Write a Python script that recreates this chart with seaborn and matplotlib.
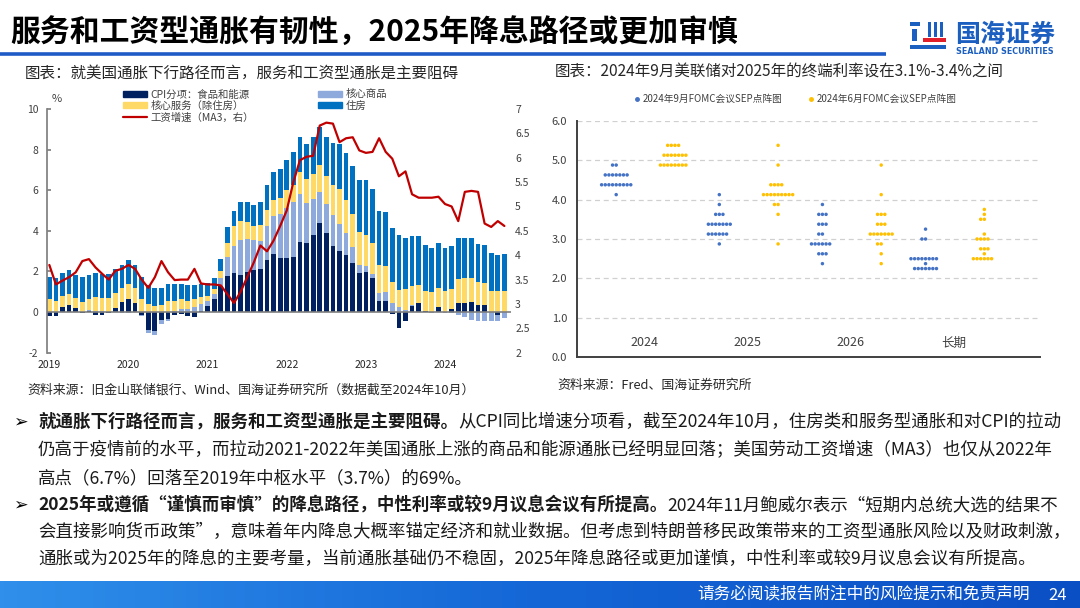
import numpy as np
import pandas as pd
import matplotlib
matplotlib.use("Agg")
import matplotlib.pyplot as plt
import seaborn as sns
from matplotlib.patches import Patch, Rectangle
from matplotlib.lines import Line2D
from matplotlib.colors import LinearSegmentedColormap

# ---------------- left chart: contributions to US CPI YoY (pp), Jan 2019 - Oct 2024
food_energy = [-0.2, -0.2, 0.25, 0.35, 0.2, -0.05, 0.05, -0.15, -0.15, -0.05, 0.2, 0.5,
               0.65, 0.45, -0.15, -0.9, -0.95, -0.38, -0.35, -0.15, -0.08, -0.2, -0.25, 0.03,
               0.28, 0.64, 1.28, 1.77, 1.93, 1.85, 1.95, 2.05, 2.12, 2.55, 2.85, 2.64,
               2.64, 2.7, 3.43, 3.38, 3.82, 4.41, 3.87, 3.26, 3.0, 2.8, 2.43, 1.9,
               1.95, 1.66, 0.57, 0.57, -0.11, -0.78, -0.44, 0.3, 0.46, 0.05, -0.02, 0.23,
               0.02, 0.13, 0.43, 0.46, 0.51, 0.34, 0.34, 0.0, -0.12, 0.0]
core_goods = [0.0, 0.0, 0.02, 0.02, 0.02, 0.0, 0.05, 0.03, 0.05, 0.0, 0.0, -0.03,
              -0.03, 0.0, -0.05, -0.15, -0.2, -0.2, -0.1, 0.05, 0.15, 0.15, 0.25, 0.35,
              0.27, 0.24, 0.42, 0.95, 1.32, 1.7, 1.65, 1.5, 1.38, 1.7, 1.9, 2.21,
              2.5, 2.7, 2.36, 2.0, 1.74, 1.48, 1.44, 1.51, 1.33, 1.07, 0.78, 0.44,
              0.33, 0.21, 0.35, 0.43, 0.43, 0.26, 0.1, 0.05, 0.0, -0.02, -0.03, 0.0,
              -0.05, -0.05, -0.12, -0.25, -0.38, -0.42, -0.42, -0.42, -0.3, -0.28]
core_services = [0.65, 0.55, 0.5, 0.5, 0.48, 0.5, 0.55, 0.72, 0.65, 0.7, 0.72, 0.7,
                 0.75, 0.75, 0.65, 0.4, 0.3, 0.35, 0.57, 0.52, 0.5, 0.42, 0.4, 0.35,
                 0.25, 0.27, 0.3, 0.7, 1.0, 0.95, 0.85, 0.7, 0.8, 0.8, 0.75, 0.79,
                 0.86, 0.85, 1.11, 1.19, 1.26, 1.34, 1.38, 1.48, 1.75, 1.67, 1.64, 1.61,
                 1.51, 1.51, 1.38, 1.28, 1.06, 0.84, 1.06, 0.93, 0.87, 0.98, 1.0, 0.98,
                 1.01, 1.03, 1.18, 1.2, 1.19, 1.15, 1.1, 1.03, 1.03, 1.05]
shelter = [1.08, 1.13, 1.15, 1.21, 1.15, 1.22, 1.18, 1.17, 1.18, 1.18, 1.18, 1.13,
           1.15, 1.13, 1.08, 0.93, 0.9, 0.85, 0.81, 0.83, 0.73, 0.75, 0.7, 0.65,
           0.65, 0.55, 0.62, 0.78, 0.75, 0.9, 0.95, 1.03, 1.12, 1.2, 1.38, 1.43,
           1.5, 1.65, 1.7, 1.73, 1.8, 1.87, 1.91, 2.08, 2.22, 2.3, 2.35, 2.54,
           2.7, 2.7, 2.7, 2.67, 2.67, 2.69, 2.51, 2.46, 2.41, 2.27, 2.18, 2.17,
           2.15, 2.09, 2.05, 2.0, 1.96, 1.85, 1.86, 1.89, 1.77, 1.8]
wage_ma3 = [3.80, 3.40, 3.48, 3.55, 3.65, 3.88, 3.92, 3.75, 3.62, 3.50, 3.68, 3.72,
            3.80, 3.72, 3.50, 3.33, 3.55, 3.88, 3.65, 3.49, 3.50, 3.50, 3.72, 3.42,
            3.40, 3.40, 3.38, 3.20, 3.02, 3.25, 3.55, 3.85, 4.20, 4.08, 4.30, 4.60,
            4.92, 5.50, 5.95, 6.02, 6.04, 6.66, 6.72, 6.70, 6.32, 6.40, 6.42, 6.15,
            6.10, 6.12, 6.40, 6.12, 5.98, 5.62, 5.72, 5.25, 5.18, 5.18, 5.18, 5.20,
            5.05, 5.00, 4.70, 5.30, 5.32, 5.30, 4.65, 4.58, 4.70, 4.60]
year_labels = ["2019", "2020", "2021", "2022", "2023", "2024"]

# ---------------- right chart: FOMC SEP dot plots
dot_years = ["2024", "2025", "2026", "长期"]
sep_rates = [[4.875, 4.625, 4.375, 4.125],
             [4.125, 3.875, 3.625, 3.375, 3.125, 2.875],
             [3.875, 3.625, 3.375, 3.125, 2.875, 2.625, 2.375],
             [3.25, 3.0, 2.5, 2.375, 2.25]]
sep_counts = [[2, 7, 9, 1],
              [1, 1, 3, 7, 6, 1],
              [1, 3, 3, 2, 6, 3, 1],
              [1, 2, 8, 1, 7]]
jun_rates = [[5.375, 5.125, 4.875],
             [5.375, 4.875, 4.375, 4.125, 3.875, 3.625, 2.875],
             [4.875, 4.125, 3.625, 3.375, 3.125, 2.875, 2.625, 2.375],
             [3.75, 3.625, 3.5, 3.125, 3.0, 2.75, 2.625, 2.5]]
jun_counts = [[4, 7, 8],
              [1, 1, 4, 9, 2, 1, 1],
              [1, 1, 3, 3, 7, 2, 1, 1],
              [1, 1, 2, 1, 4, 3, 1, 6]]
sep_label = "2024年9月FOMC会议SEP点阵图"
jun_label = "2024年6月FOMC会议SEP点阵图"

sns.set_theme(style="white")
plt.rcParams["font.family"] = ["Noto Sans CJK SC", "DejaVu Sans"]
plt.rcParams["axes.unicode_minus"] = False

W, H = 1080, 608
fig = plt.figure(figsize=(10.8, 6.08), dpi=100)


def fbox(x0, y0, x1, y1):
    # pixel box (top-left origin) -> figure fraction rect
    return [x0 / W, 1 - y1 / H, (x1 - x0) / W, (y1 - y0) / H]


bg = fig.add_axes([0, 0, 1, 1])
bg.set_xlim(0, W)
bg.set_ylim(H, 0)
bg.axis("off")

# header
bg.text(10, 33, "服务和工资型通胀有韧性，2025年降息路径或更加审慎", fontsize=21.5,
        fontweight="bold", color="black", va="center", ha="left")
bg.plot([0, 886], [54, 54], color="#1F5BC6", lw=2.6, solid_capstyle="butt")
logo_blue = "#1B5FC1"
for r in [(910, 22, 10, 4), (912, 29, 5, 12), (928, 22, 3, 15), (934, 22, 3, 15),
          (940, 22, 3, 15), (910, 45, 36, 4)]:
    bg.add_patch(Rectangle((r[0], r[1]), r[2], r[3], color=logo_blue, lw=0))
bg.add_patch(Rectangle((923, 38), 23, 4, color="#E0202A", lw=0))
bg.text(1005, 35, "国海证券", fontsize=18, fontweight="bold", color=logo_blue,
        ha="center", va="center")
bg.text(1005, 52, "SEALAND SECURITIES", fontsize=5.8, fontweight="bold", color=logo_blue,
        ha="center", va="center", family="DejaVu Sans")

# chart captions and sources
bg.text(25, 73, "图表：就美国通胀下行路径而言，服务和工资型通胀是主要阻碍", fontsize=11.2,
        color="#262626", va="center")
bg.text(555, 72, "图表：2024年9月美联储对2025年的终端利率设在3.1%-3.4%之间", fontsize=11.2,
        color="#262626", va="center")
bg.text(27, 390, "资料来源：旧金山联储银行、Wind、国海证券研究所（数据截至2024年10月）",
        fontsize=9.3, color="#262626", va="center")
bg.text(557, 385, "资料来源：Fred、国海证券研究所", fontsize=9.3, color="#262626", va="center")

# bullet text
fs = 12.6
tc = "#1A1A1A"
lines = [
    (420, "就通胀下行路径而言，服务和工资型通胀是主要阻碍。",
     "从CPI同比增速分项看，截至2024年10月，住房类和服务型通胀和对CPI的拉动"),
    (448, None, "仍高于疫情前的水平，而拉动2021-2022年美国通胀上涨的商品和能源通胀已经明显回落；美国劳动工资增速（MA3）也仅从2022年"),
    (476, None, "高点（6.7%）回落至2019年中枢水平（3.7%）的69%。"),
    (503, "2025年或遵循“谨慎而审慎”的降息路径，中性利率或较9月议息会议有所提高。",
     "2024年11月鲍威尔表示“短期内总统大选的结果不"),
    (530, None, "会直接影响货币政策”，意味着年内降息大概率锚定经济和就业数据。但考虑到特朗普移民政策带来的工资型通胀风险以及财政刺激，"),
    (557, None, "通胀或为2025年的降息的主要考量，当前通胀基础仍不稳固，2025年降息路径或更加谨慎，中性利率或较9月议息会议有所提高。"),
]
for y, bold_part, normal_part in lines:
    if bold_part is None:
        bg.text(38, y, normal_part, fontsize=fs, color=tc, va="center_baseline")
        continue
    bg.text(13, y, "➢", fontsize=fs, color="black", va="center_baseline",
            fontweight="bold", family=["DejaVu Sans"])
    tb = bg.text(38, y, bold_part, fontsize=fs, color=tc, fontweight="bold",
                 va="center_baseline")
    bg.annotate(normal_part, xy=(1, 0), xycoords=tb, va="bottom", ha="left",
                fontsize=fs, color=tc)

# footer band
grad = np.linspace(0, 1, 256).reshape(1, -1)
cmap = LinearSegmentedColormap.from_list("band", ["#2F8FEA", "#1466D6", "#0B4FC4"])
bg.imshow(grad, extent=[0, W, H, 581], aspect="auto", cmap=cmap, zorder=0)
bg.set_xlim(0, W)
bg.set_ylim(H, 0)
bg.text(1030, 595, "请务必阅读报告附注中的风险提示和免责声明", fontsize=12, color="white",
        ha="right", va="center")
bg.text(1058, 595, "24", fontsize=12, color="white", ha="center", va="center")

# ---------------- left chart
ax = fig.add_axes(fbox(46.7, 109, 511, 352.7))
ax.patch.set_alpha(0)
months = np.arange(len(food_energy))
parts = [("CPI分项：食品和能源", food_energy, "#002060"),
         ("核心商品", core_goods, "#8EA9DB"),
         ("核心服务（除住房）", core_services, "#FFD966"),
         ("住房", shelter, "#0070C0")]
pos = np.zeros(len(months))
neg = np.zeros(len(months))
for label, vals, color in parts:
    v = np.asarray(vals, dtype=float)
    base = np.where(v >= 0, pos, neg)
    sns.barplot(x=months, y=v, bottom=base, color=color, saturation=1, width=0.72,
                native_scale=True, linewidth=0, ax=ax, errorbar=None)
    pos += np.clip(v, 0, None)
    neg += np.clip(v, None, 0)

ax.axhline(0, color="#7F7F7F", lw=1.2, zorder=3)
ax.set_xlim(-0.4, 70)
ax.set_ylim(-2, 10)
ax.set_yticks(np.arange(-2, 11, 2))
ax.set_xticks(np.arange(0, 61, 12))
ax.set_xticklabels(year_labels)
ax.tick_params(axis="x", length=0, labelsize=7.5, labelcolor="#262626", pad=5)
ax.tick_params(axis="y", length=3, direction="in", labelsize=7.5, labelcolor="#404040",
               color="#808080", pad=6)
for s in ["top", "right", "bottom"]:
    ax.spines[s].set_visible(False)
ax.spines["left"].set_color("#808080")
ax.set_xlabel("")
ax.set_ylabel("")
bg.text(52, 99, "%", fontsize=8, color="#404040", va="center")

ax2 = ax.twinx()
sns.lineplot(x=months, y=wage_ma3, color="#C00000", lw=1.6, ax=ax2)
ax2.set_ylim(2, 7)
ax2.set_yticks(np.arange(2, 7.01, 0.5))
ax2.set_yticklabels([f"{t:g}" for t in np.arange(2, 7.01, 0.5)])
ax2.tick_params(axis="y", length=0, labelsize=7.5, labelcolor="#404040", pad=3)
for s in ax2.spines.values():
    s.set_visible(False)
ax2.set_ylabel("")
ax2.grid(False)

handles = [Patch(color="#002060"), Patch(color="#FFD966"), Line2D([], [], color="#C00000", lw=1.6),
           Patch(color="#8EA9DB"), Patch(color="#0070C0")]
labels = ["CPI分项：食品和能源", "核心服务（除住房）", "工资增速（MA3，右）", "核心商品", "住房"]
fig.legend(handles, labels, ncol=2, loc="upper left", bbox_to_anchor=(118 / W, 1 - 84 / H),
           frameon=False, fontsize=7.5, handlelength=2.3, handleheight=0.55,
           labelspacing=0.12, columnspacing=6.2, handletextpad=0.3, borderpad=0,
           labelcolor="#404040")

# ---------------- right chart
rows = []
for meeting, rates_all, counts_all, shift in [(sep_label, sep_rates, sep_counts, -0.27),
                                                (jun_label, jun_rates, jun_counts, 0.30)]:
    for i, (rates, counts) in enumerate(zip(rates_all, counts_all)):
        for r, c in zip(rates, counts):
            rows += [{"meeting": meeting, "xpos": i + shift, "rate": r}] * c
dots = pd.DataFrame(rows)

axr = fig.add_axes(fbox(576.7, 120.7, 1040, 357.3))
axr.patch.set_alpha(0)
sns.swarmplot(data=dots, x="xpos", y="rate", hue="meeting", native_scale=True,
              hue_order=[sep_label, jun_label], palette=["#4472C4", "#FFC000"],
              size=2.5, linewidth=0, legend=False, ax=axr)
axr.set_xlim(-0.653, 3.84)
axr.set_ylim(0, 6)
axr.set_yticks(np.arange(0, 6.01, 1))
axr.set_yticklabels([f"{t:.1f}" for t in np.arange(0, 6.01, 1)])
axr.set_xticks(range(len(dot_years)))
axr.set_xticklabels(dot_years)
axr.tick_params(axis="x", length=0, pad=-15, labelsize=9, labelcolor="#404040")
axr.tick_params(axis="y", length=3, direction="out", labelsize=8, labelcolor="#404040",
                color="#404040", pad=4)
axr.yaxis.grid(True, color="#D0D0D0", lw=0.9, ls=(0, (4, 3)))
axr.xaxis.grid(False)
axr.set_axisbelow(True)
for s in ["top", "right"]:
    axr.spines[s].set_visible(False)
for s in ["left", "bottom"]:
    axr.spines[s].set_color("#404040")
    axr.spines[s].set_linewidth(1.4)
axr.set_xlabel("")
axr.set_ylabel("")

dot_handles = [Line2D([], [], ls="", marker="o", markersize=2.5, color="#4472C4"),
               Line2D([], [], ls="", marker="o", markersize=2.5, color="#FFC000")]
fig.legend(dot_handles, [sep_label, jun_label], ncol=2, loc="center",
           bbox_to_anchor=(795 / W, 1 - 99 / H), frameon=False, fontsize=7,
           handlelength=0.8, handletextpad=0.2, columnspacing=2.5, labelcolor="#404040")

fig.savefig("out.png", dpi=100)
